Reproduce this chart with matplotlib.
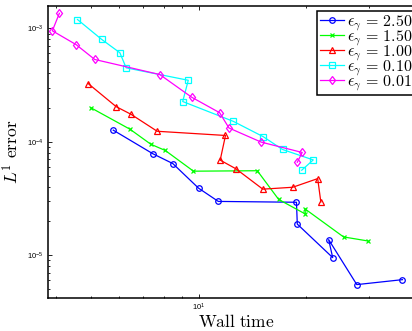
import numpy as np
from matplotlib import pyplot as plt

plt.rcParams['font.family'] = ['Liberation Sans', 'DejaVu Sans']
plt.rcParams['mathtext.fontset'] = 'cm'

# wall time / L1 error for each epsilon_gamma
t_250 = [5.77, 7.45, 8.47, 10.0, 11.36, 18.81, 18.91, 23.76, 23.15, 27.76, 37.27]
e_250 = [1.263e-4, 7.82e-5, 6.41e-5, 3.89e-5, 2.97e-5, 2.92e-5, 1.873e-5, 9.49e-6, 1.367e-5, 5.48e-6, 6.06e-6]

t_150 = [4.99, 6.43, 7.35, 8.07, 9.68, 14.61, 16.77, 19.92, 19.88, 25.48, 29.78]
e_150 = [1.994e-4, 1.286e-4, 9.49e-5, 8.36e-5, 5.49e-5, 5.54e-5, 3.09e-5, 2.30e-5, 2.55e-5, 1.444e-5, 1.331e-5]

t_100 = [4.91, 5.88, 6.46, 7.66, 11.90, 11.50, 12.72, 15.14, 18.36, 21.57, 22.01]
e_100 = [3.25e-4, 2.035e-4, 1.748e-4, 1.235e-4, 1.134e-4, 6.87e-5, 5.77e-5, 3.81e-5, 3.96e-5, 4.72e-5, 2.94e-5]

t_010 = [4.58, 5.35, 6.02, 6.27, 9.36, 9.03, 12.52, 15.19, 17.19, 20.96, 19.46]
e_010 = [1.196e-3, 8.0e-4, 6.09e-4, 4.48e-4, 3.48e-4, 2.26e-4, 1.51e-4, 1.105e-4, 8.53e-5, 6.90e-5, 5.60e-5]

t_001 = [4.075, 3.895, 4.54, 5.12, 7.79, 9.56, 11.46, 12.17, 14.99, 19.52, 18.91]
e_001 = [1.356e-3, 9.51e-4, 7.18e-4, 5.31e-4, 3.91e-4, 2.47e-4, 1.80e-4, 1.32e-4, 9.90e-5, 8.03e-5, 6.58e-5]

labels = [r'$\epsilon_\gamma\, =\, 2.50$', r'$\epsilon_\gamma\, =\, 1.50$', r'$\epsilon_\gamma\, =\, 1.00$',
          r'$\epsilon_\gamma\, =\, 0.10$', r'$\epsilon_\gamma\, =\, 0.01$']

fig = plt.figure(figsize=(4.12, 3.31), dpi=100)
ax = fig.add_axes([0.1158, 0.1006, 0.9175, 0.8813])

ax.loglog(t_250, e_250, 'o-', color=(0, 0, 1), mfc='none', ms=4, lw=0.9, mew=0.9, label=labels[0])
ax.loglog(t_150, e_150, 'x-', color=(0, 1, 0), ms=3.5, lw=0.9, mew=0.9, label=labels[1])
ax.loglog(t_100, e_100, '^-', color=(1, 0, 0), mfc='none', ms=4.5, lw=0.9, mew=0.9, label=labels[2])
ax.loglog(t_010, e_010, 's-', color=(0, 1, 1), mfc='none', ms=3.8, lw=0.9, mew=0.9, label=labels[3])
ax.loglog(t_001, e_001, 'd-', color=(1, 0, 1), mfc='none', ms=4.5, lw=0.9, mew=0.9, label=labels[4])

ax.set_xlim(3.78, 43.3)
ax.set_ylim(4.2e-6, 1.574e-3)

for s in ax.spines.values():
    s.set_linewidth(1.1)
ax.tick_params(which='both', direction='in', top=True, right=True, labelsize=5.5, width=0.6)
ax.tick_params(which='major', length=2.8, pad=3)
ax.tick_params(which='minor', length=1.6)

ax.set_xlabel(r'$\mathrm{Wall\ time}$', fontsize=12.5, labelpad=0)
ax.set_ylabel(r'$L^1\ \mathrm{error}$', fontsize=12.5, labelpad=4)

leg = ax.legend(loc='upper left', bbox_to_anchor=(0.713, 0.984), borderaxespad=0,
                fontsize=11.5, fancybox=False, framealpha=1, edgecolor='black',
                handlelength=1.5, handletextpad=0.2, labelspacing=-0.3, borderpad=0.15)
leg.get_frame().set_linewidth(1.1)

plt.savefig('out.png', dpi=100)
